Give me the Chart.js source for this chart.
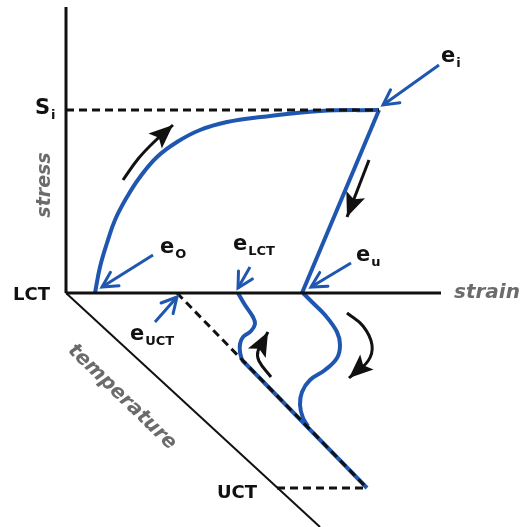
<!DOCTYPE html>
<html>
<head>
<meta charset="utf-8">
<script src="https://cdn.jsdelivr.net/npm/chart.js@4.4.1/dist/chart.umd.min.js"></script>
<style>
  html, body { margin: 0; padding: 0; background: #fff; }
  canvas { display: block; }
</style>
</head>
<body>
<canvas id="diagram" width="522" height="527"></canvas>
<script>
// units: strain along x, stress along y, origin at the LCT corner.
// the temperature axis runs down and to the right from the origin.
const stressAxis = [[0, 286], [0, 0]];
const strainAxis = [[0, 0], [375, 0]];
const temperatureAxis = [[0, 0], [254, -234]];

const siLevel = [[0, 183], [313, 183]];
const uctPath = [[111, 0], [301, -195]];
const uctLevel = [[211, -195], [301, -195]];

// blue strain paths
const loading = [[29, 0], [34, 26], [41, 50], [49, 73], [61, 96], [74, 116], [91, 136], [111, 151], [134, 163], [161, 171], [195, 176], [254, 182], [313, 183]];
const unloading = [[313, 183], [236, 0]];
const lctWave = [[172, 0], [179, -12], [187, -24], [189, -31], [185, -38], [177, -44], [174, -51], [174, -59], [176, -67]];
const lctTail = [[176, -67], [301, -195]];
const uWave = [[237, 0], [246, -9], [259, -22], [271, -39], [274, -52], [271, -65], [259, -77], [244, -87], [236, -99], [234, -112], [237, -125], [242, -133]];

// pointers to the named strains
const eiPointer = [[373, 228], [317, 188]];
const eoPointer = [[87, 38], [36, 6]];
const eLctPointer = [[184, 26], [172, 5]];
const euPointer = [[285, 30], [245, 6]];
const eUctPointer = [[89, -29], [111, -4]];

// black process arrows
const loadArrow = [[57, 113], [72, 134], [88, 151], [107, 168]];
const unloadArrow = [[303, 133], [281, 76]];
const coolArrow = [[205, -84], [193, -68], [192, -58], [202, -39]];
const heatArrow = [[281, -20], [297, -33], [306, -52], [302, -68], [283, -85]];

const BLUE = '#1f57b0';
const GREY = '#6b6b6b';

const labels = [
  { x: -31, y: 184, text: 'S', sub: 'i', size: 21, align: 'left' },
  { x: -21, y: 108, text: 'stress', size: 19, color: GREY, italic: true, rot: -90, align: 'center' },
  { x: -16, y: -2, text: 'LCT', size: 18, align: 'right' },
  { x: 388, y: 0, text: 'strain', size: 20, color: GREY, italic: true, align: 'left' },
  { x: 375, y: 236, text: 'e', sub: 'i', size: 21, align: 'left' },
  { x: 94, y: 45, text: 'e', sub: 'O', size: 21, align: 'left' },
  { x: 167, y: 48, text: 'e', sub: 'LCT', size: 21, align: 'left' },
  { x: 290, y: 37, text: 'e', sub: 'u', size: 21, align: 'left' },
  { x: 64, y: -42, text: 'e', sub: 'UCT', size: 21, align: 'left' },
  { x: 56, y: -104, text: 'temperature', size: 20, color: GREY, italic: true, rot: 44, align: 'center' },
  { x: 191, y: -200, text: 'UCT', size: 18, align: 'right' }
];

function pts(arr) {
  return arr.map(p => ({ x: p[0], y: p[1] }));
}

function line(arr, opts) {
  return Object.assign({
    data: pts(arr),
    showLine: true,
    pointRadius: 0,
    borderColor: '#111',
    borderWidth: 3,
    tension: 0,
    fill: false
  }, opts);
}

const arrowHeads = {
  id: 'arrowHeads',
  afterDatasetsDraw(chart) {
    const ctx = chart.ctx;
    chart.data.datasets.forEach((ds, i) => {
      if (!ds.head) return;
      const els = chart.getDatasetMeta(i).data;
      const tip = els[els.length - 1];
      const prev = els[els.length - 2];
      let fx = prev.x, fy = prev.y;
      if (ds.tension && tip.cp1x !== undefined) {
        fx = tip.cp1x;
        fy = tip.cp1y;
      }
      const a = Math.atan2(tip.y - fy, tip.x - fx);
      ctx.save();
      ctx.translate(tip.x, tip.y);
      ctx.rotate(a);
      if (ds.head === 'open') {
        ctx.strokeStyle = ds.borderColor;
        ctx.lineWidth = 3;
        ctx.lineCap = 'round';
        ctx.beginPath();
        ctx.moveTo(-15, -8);
        ctx.lineTo(0, 0);
        ctx.lineTo(-15, 8);
        ctx.stroke();
      } else {
        ctx.fillStyle = '#111';
        ctx.beginPath();
        ctx.moveTo(0, 0);
        ctx.lineTo(-24, -10);
        ctx.lineTo(-19, 0);
        ctx.lineTo(-24, 10);
        ctx.closePath();
        ctx.fill();
      }
      ctx.restore();
    });
  }
};

const textLabels = {
  id: 'textLabels',
  afterDraw(chart) {
    const ctx = chart.ctx;
    const sx = chart.scales.x, sy = chart.scales.y;
    labels.forEach(l => {
      const px = sx.getPixelForValue(l.x);
      const py = sy.getPixelForValue(l.y);
      const family = '"DejaVu Sans", Verdana, sans-serif';
      const style = l.italic ? 'italic ' : '';
      ctx.save();
      ctx.translate(px, py);
      if (l.rot) ctx.rotate(l.rot * Math.PI / 180);
      ctx.fillStyle = l.color || '#111';
      ctx.textBaseline = 'middle';
      ctx.font = style + 'bold ' + l.size + 'px ' + family;
      const w = ctx.measureText(l.text).width;
      let x0 = 0;
      if (l.align === 'right') x0 = -w;
      if (l.align === 'center') x0 = -w / 2;
      ctx.textAlign = 'left';
      ctx.fillText(l.text, x0, 0);
      if (l.sub) {
        ctx.font = 'bold ' + Math.round(l.size * 0.62) + 'px ' + family;
        ctx.fillText(l.sub, x0 + w + 1, 7);
      }
      ctx.restore();
    });
  }
};

new Chart(document.getElementById('diagram'), {
  type: 'scatter',
  data: {
    datasets: [
      line(stressAxis, { order: 1 }),
      line(strainAxis, { order: 1 }),
      line(temperatureAxis, { borderWidth: 2, order: 1 }),
      line(siLevel, { borderDash: [8, 5], order: 1 }),
      line(uctPath, { borderDash: [8, 5], order: 1 }),
      line(uctLevel, { borderDash: [8, 5], order: 1 }),

      line(loading, { borderColor: BLUE, borderWidth: 4, tension: 0.4, order: 2 }),
      line(unloading, { borderColor: BLUE, borderWidth: 4, order: 2 }),
      line(lctWave, { borderColor: BLUE, borderWidth: 4, tension: 0.4, order: 2 }),
      line(lctTail, { borderColor: BLUE, borderWidth: 4, order: 2 }),
      line(uWave, { borderColor: BLUE, borderWidth: 4, tension: 0.4, order: 2 }),

      line(eiPointer, { borderColor: BLUE, borderWidth: 3, head: 'open', order: 0 }),
      line(eoPointer, { borderColor: BLUE, borderWidth: 3, head: 'open', order: 0 }),
      line(eLctPointer, { borderColor: BLUE, borderWidth: 3, head: 'open', order: 0 }),
      line(euPointer, { borderColor: BLUE, borderWidth: 3, head: 'open', order: 0 }),
      line(eUctPointer, { borderColor: BLUE, borderWidth: 3, head: 'open', order: 0 }),

      line(loadArrow, { borderWidth: 3, tension: 0.4, head: 'filled', order: 0 }),
      line(unloadArrow, { borderWidth: 3, head: 'filled', order: 0 }),
      line(coolArrow, { borderWidth: 3, tension: 0.4, head: 'filled', order: 0 }),
      line(heatArrow, { borderWidth: 3, tension: 0.4, head: 'filled', order: 0 })
    ]
  },
  options: {
    responsive: false,
    animation: false,
    events: [],
    layout: { padding: 0 },
    plugins: {
      legend: { display: false },
      tooltip: { enabled: false }
    },
    scales: {
      x: { type: 'linear', min: -66, max: 456, display: false },
      y: { type: 'linear', min: -234, max: 293, display: false }
    }
  },
  plugins: [arrowHeads, textLabels]
});
</script>
</body>
</html>
